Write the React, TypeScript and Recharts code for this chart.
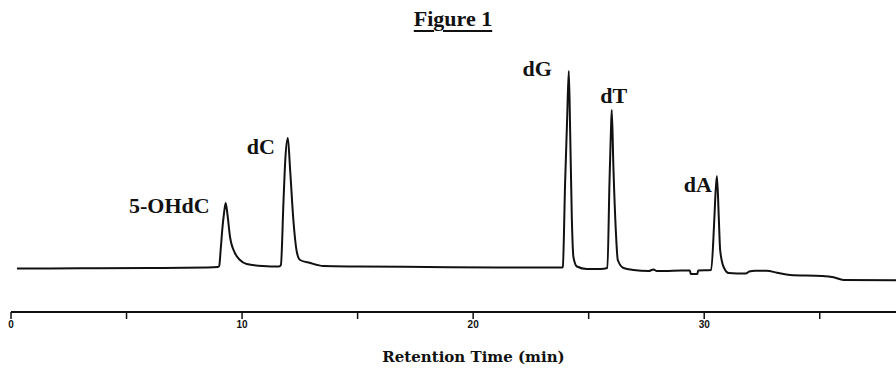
import { LineChart, Line, XAxis, YAxis, ReferenceDot, Label } from 'recharts';

// Retention time (min) and detector signal (arbitrary units, baseline ~ 0)
const times = [
  0.26, 3.0, 6.0, 8.5, 8.95, 9.01, 9.08, 9.15, 9.22, 9.29, 9.36, 9.48, 9.69, 9.91, 10.2, 10.9, 11.6,
  11.68, 11.79, 11.87, 11.98, 12.08, 12.22, 12.37, 12.51, 12.94, 13.52, 15.0, 18.0, 21.0, 23.85,
  23.88, 23.98, 24.07, 24.14, 24.2, 24.27, 24.34, 24.49, 24.92, 25.5, 25.81, 25.9, 25.96, 26.0,
  26.07, 26.18, 26.26, 26.51, 26.94, 27.6, 27.8, 27.95, 28.3, 29.0, 29.38, 29.42, 29.7, 29.74,
  30.3, 30.43, 30.49, 30.55, 30.63, 30.69, 30.84, 31.06, 31.8, 31.95, 32.2, 32.7, 33.15, 33.72,
  35.1, 35.6, 36.03, 38.3,
];
const signal = [
  -0.5, -0.3, 0, 0.5, 1, 2, 20, 40, 55, 65, 55, 31, 15, 8, 4, 2, 1.5,
  3, 65, 108, 130, 98, 48, 16, 8, 5, 2, 1.5, 1, 0.5, 0.5,
  1, 85, 151, 197, 135, 51, 11, 1.5, -1, -1, 0, 85, 135, 158,
  101, 35, 8, 0, -2, -3, -1.5, -3, -3, -2.5, -2.5, -6, -6, -2.5,
  -2, 45, 75, 92, 51, 18, 1, -5, -5.5, -3.5, -2.7, -2.7, -4.7, -7,
  -8, -9.3, -12, -12.3,
];

// Peak annotations
const peakNames = ['5-OHdC', 'dC', 'dG', 'dT', 'dA'];
const peakTimes = [9.29, 11.98, 24.14, 26.0, 30.55];
const peakHeights = [65, 130, 197, 158, 92];

const xTicks = [0, 5, 10, 15, 20, 25, 30, 35];

// label placement relative to peak apex (px)
const labelOffsets = [
  { dx: -16, dy: 10, anchor: 'end' },
  { dx: -13, dy: 16, anchor: 'end' },
  { dx: -17, dy: 5, anchor: 'end' },
  { dx: 2, dy: -7, anchor: 'middle' },
  { dx: -5, dy: 16, anchor: 'end' },
];

const serif = '"Liberation Serif", "Times New Roman", serif';
const ink = '#111';

function App() {
  const data = times.map((t, i) => ({ t, v: signal[i] }));

  return (
    <div style={{ position: 'absolute', left: 0, top: 0, width: 896, height: 370, background: '#fff' }}>
      {/* Titulo */}
      <div
        style={{
          position: 'absolute',
          left: 5,
          top: 6,
          width: 896,
          textAlign: 'center',
          fontFamily: serif,
          fontSize: 22,
          fontWeight: 'bold',
          color: ink,
          textDecoration: 'underline',
          textUnderlineOffset: 4,
          lineHeight: '25px',
        }}
      >
        Figure 1
      </div>

      <LineChart width={896} height={370} data={data} margin={{ top: 52, right: 0, bottom: 0, left: 11 }}>
        <XAxis
          dataKey="t"
          type="number"
          domain={[0, 38.3]}
          ticks={xTicks}
          allowDataOverflow
          height={58}
          tickSize={7}
          tickFormatter={(v) => (v % 10 === 0 ? String(v) : '')}
          tick={{ fontSize: 10, fontWeight: 'bold', fill: ink, fontFamily: '"Liberation Sans", Arial, sans-serif' }}
          axisLine={{ stroke: ink, strokeWidth: 2 }}
          tickLine={{ stroke: ink, strokeWidth: 1.5 }}
        >
          <Label
            value="Retention Time (min)"
            position="insideBottom"
            offset={8}
            dx={20}
            style={{ fontFamily: '"DejaVu Serif", serif', fontWeight: 'bold', fontSize: 15, fill: ink }}
          />
        </XAxis>
        <YAxis hide type="number" domain={[-44, 216]} allowDataOverflow />
        <Line
          type="monotone"
          dataKey="v"
          stroke={ink}
          strokeWidth={2}
          dot={false}
          isAnimationActive={false}
        />
        {peakNames.map((name, i) => (
          <ReferenceDot
            key={name}
            x={peakTimes[i]}
            y={peakHeights[i]}
            r={0}
            fill="none"
            stroke="none"
            label={{
              content: (props: any) => {
                const vb = props.viewBox || {};
                const cx = (vb.x ?? 0) + (vb.width ?? 0) / 2;
                const cy = (vb.y ?? 0) + (vb.height ?? 0) / 2;
                const o = labelOffsets[i];
                return (
                  <text
                    x={cx + o.dx}
                    y={cy + o.dy}
                    textAnchor={o.anchor as any}
                    fontFamily={serif}
                    fontWeight="bold"
                    fontSize={22}
                    fill={ink}
                  >
                    {name}
                  </text>
                );
              },
            }}
          />
        ))}
      </LineChart>
    </div>
  );
}

export default App;
